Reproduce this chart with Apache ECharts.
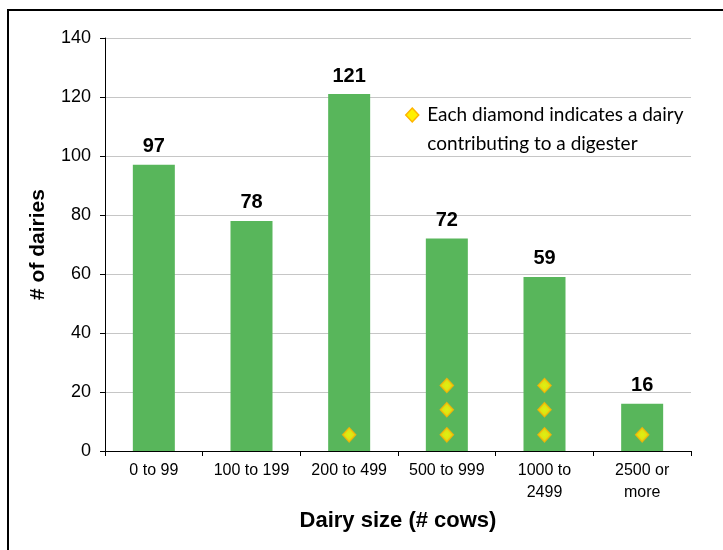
<!DOCTYPE html>
<html>
<head>
<meta charset="utf-8">
<script src="https://cdn.jsdelivr.net/npm/echarts@6/dist/echarts.min.js"></script>
<style>
  html, body { margin: 0; padding: 0; background: #fff; }
  #chart { width: 723px; height: 550px; }
</style>
</head>
<body>
<div id="chart"></div>
<script>
// Herd-size classes and number of dairies in each
const categories = ['0 to 99', '100 to 199', '200 to 499', '500 to 999', '1000 to\n2499', '2500 or\nmore'];
const dairyCounts = [97, 78, 121, 72, 59, 16];

// Dairies that feed a digester: one marker each, stacked up the bar
const digesterCategory = ['200 to 499', '500 to 999', '500 to 999', '500 to 999', '1000 to\n2499', '1000 to\n2499', '1000 to\n2499', '2500 or\nmore'];
const digesterLevel = [5.5, 5.5, 14, 22.2, 5.5, 14, 22.2, 5.5];

const yTicks = { min: 0, max: 140, interval: 20 };

const FONT = 'Liberation Sans, Arial, sans-serif';

const chart = echarts.init(document.getElementById('chart'), null, { renderer: 'canvas' });

const digesterPoints = digesterCategory.map((c, i) => [c, digesterLevel[i]]);

const diamondStyle = {
  color: {
    type: 'radial', x: 0.5, y: 0.5, r: 0.5,
    colorStops: [{ offset: 0, color: '#FFFF00' }, { offset: 1, color: '#FFE000' }]
  },
  borderColor: '#FFB400',
  borderWidth: 1.5
};

chart.setOption({
  animation: false,
  textStyle: { fontFamily: FONT },
  grid: { left: 105, right: 32, top: 38, bottom: 99, containLabel: false },
  xAxis: {
    type: 'category',
    data: categories,
    axisLine: { show: true, lineStyle: { color: '#000', width: 1 } },
    axisTick: { show: true, length: 5, alignWithLabel: false, lineStyle: { color: '#000' } },
    axisLabel: { color: '#000', fontFamily: FONT, fontSize: 16, margin: 9, lineHeight: 22, interval: 0 },
    name: 'Dairy size (# cows)',
    nameLocation: 'middle',
    nameGap: 59,
    nameTextStyle: { color: '#000', fontFamily: FONT, fontSize: 22, fontWeight: 'bold' }
  },
  yAxis: {
    type: 'value',
    min: yTicks.min, max: yTicks.max, interval: yTicks.interval,
    axisLine: { show: true, lineStyle: { color: '#000', width: 1 } },
    axisTick: { show: true, length: 5, lineStyle: { color: '#000' } },
    axisLabel: { color: '#000', fontFamily: FONT, fontSize: 18, margin: 14 },
    splitLine: { show: true, lineStyle: { color: '#C6C6C6', width: 1 } },
    name: '# of dairies',
    nameLocation: 'middle',
    nameGap: 56,
    nameTextStyle: { color: '#000', fontFamily: FONT, fontSize: 21, fontWeight: 'bold' }
  },
  series: [
    {
      type: 'bar',
      data: dairyCounts,
      barWidth: 42,
      itemStyle: { color: '#58B65B' },
      label: {
        show: true, position: 'top', distance: 8,
        color: '#000', fontFamily: FONT, fontSize: 20, fontWeight: 'bold'
      },
      z: 2
    },
    {
      type: 'scatter',
      data: digesterPoints,
      symbol: 'diamond',
      symbolSize: [13, 14],
      itemStyle: diamondStyle,
      z: 3
    }
  ],
  graphic: [
    // frame lines along the top and left edges
    { type: 'line', shape: { x1: 7, y1: 10, x2: 723, y2: 10 }, style: { stroke: '#000', lineWidth: 2 } },
    { type: 'line', shape: { x1: 8, y1: 9, x2: 8, y2: 550 }, style: { stroke: '#000', lineWidth: 2 } },
    // key for the diamond markers
    {
      type: 'group', left: 405, top: 100,
      children: [
        { type: 'rect', shape: { x: 0, y: -2, width: 284, height: 56 }, style: { fill: '#fff' } },
        {
          type: 'polygon',
          shape: { points: [[7, 6], [13.5, 13], [7, 20], [0.5, 13]] },
          style: { fill: '#FFF000', stroke: '#FFB400', lineWidth: 1.5 }
        },
        {
          type: 'text', x: 22, y: 13,
          style: { text: 'Each diamond indicates a dairy', fontFamily: 'Lato', fontSize: 19, fill: '#000', verticalAlign: 'middle' }
        },
        {
          type: 'text', x: 22, y: 42,
          style: { text: 'contributing to a digester', fontFamily: 'Lato', fontSize: 19, fill: '#000', verticalAlign: 'middle' }
        }
      ]
    }
  ]
});
</script>
</body>
</html>
